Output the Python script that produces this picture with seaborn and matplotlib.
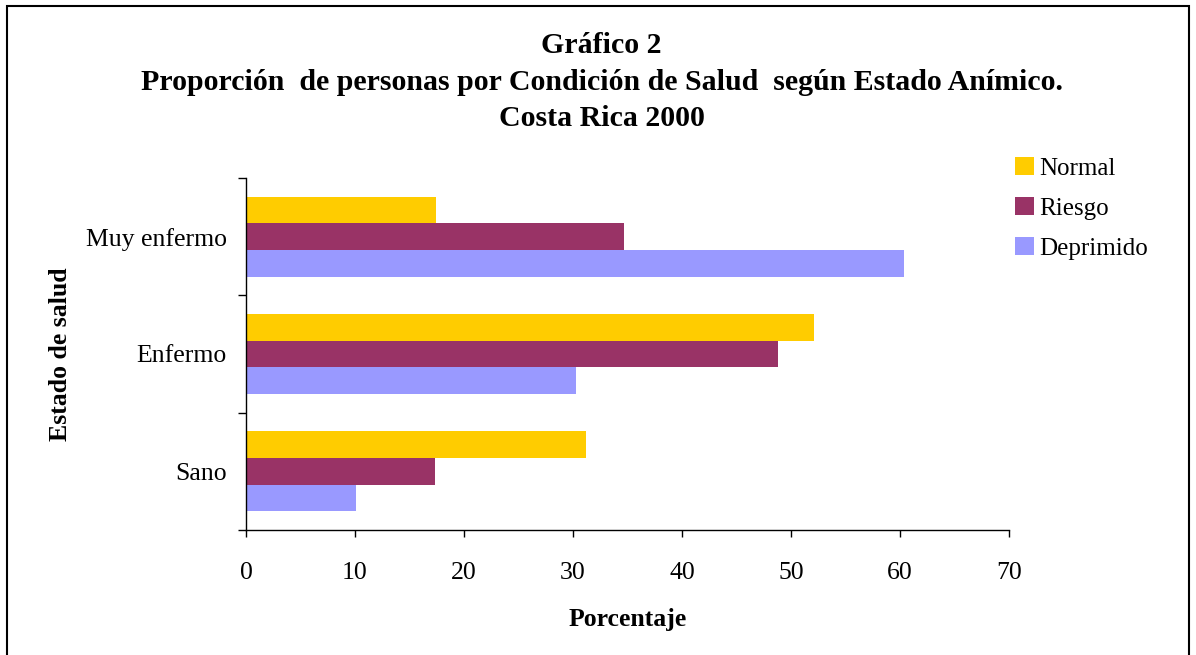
import numpy as np
import pandas as pd
import matplotlib
matplotlib.use("Agg")
import matplotlib.pyplot as plt
from matplotlib.patches import Rectangle
import seaborn as sns

estados = ["Muy enfermo", "Enfermo", "Sano"]
animo = ["Normal", "Riesgo", "Deprimido"]
normal = [17.4, 52.1, 31.2]
riesgo = [34.7, 48.8, 17.3]
deprimido = [60.4, 30.3, 10.1]
colores = ["#FFCC00", "#993366", "#9999FF"]

df = pd.DataFrame({
    "Estado": estados * 3,
    "Animo": np.repeat(animo, 3),
    "Porcentaje": normal + riesgo + deprimido,
})

sns.set_style("white")
plt.rcParams["font.family"] = ["Liberation Serif", "DejaVu Serif"]
plt.rcParams["text.color"] = "black"
plt.rcParams["axes.labelcolor"] = "black"
plt.rcParams["xtick.color"] = "black"
plt.rcParams["ytick.color"] = "black"

fig = plt.figure(figsize=(11.96, 6.55), dpi=100)
ax = fig.add_axes([246 / 1196, 1 - 530 / 655, (1009 - 246) / 1196, (530 - 178) / 655])

sns.barplot(data=df, y="Estado", x="Porcentaje", hue="Animo", order=estados,
            hue_order=animo, palette=colores, orient="h", width=0.68,
            saturation=1, errorbar=None, linewidth=0, ax=ax)

ax.set_xlim(0, 70)
ax.set_ylim(2.5, -0.5)
ax.set_xticks(range(0, 71, 10))
ax.set_yticks([-0.5, 0.5, 1.5, 2.5], minor=True)
ax.tick_params(axis="y", which="major", length=0, pad=14, labelsize=18.5)
ax.tick_params(axis="y", which="minor", left=True, length=6, width=1, color="black")
ax.tick_params(axis="x", which="major", bottom=True, length=5, width=1, color="black",
               pad=18, labelsize=18.5)
for s in ["top", "right"]:
    ax.spines[s].set_visible(False)
for s in ["left", "bottom"]:
    ax.spines[s].set_color("black")
    ax.spines[s].set_linewidth(1)

ax.set_xlabel("Porcentaje", fontsize=18.5, fontweight="bold", labelpad=17)
ax.set_ylabel("Estado de salud", fontsize=18.5, fontweight="bold", labelpad=10)

fig.text(0.503, 1 - 82 / 655,
         "Gráfico 2\nProporción  de personas por Condición de Salud  según Estado Anímico.\nCosta Rica 2000",
         ha="center", va="center", fontsize=21.5, fontweight="bold", linespacing=1.45)

ax.legend(loc="upper left", bbox_to_anchor=(1005 / 1196, 1 - 147 / 655),
          bbox_transform=fig.transFigure, frameon=False, fontsize=18,
          handlelength=0.75, handleheight=0.75, handletextpad=0.2, labelspacing=0.68,
          borderaxespad=0)

fig.patches.append(Rectangle((7 / 1196, -0.05), (1189 - 7) / 1196, 1.05 - 6 / 655,
                             transform=fig.transFigure, fill=False,
                             edgecolor="black", linewidth=1.5))

fig.savefig("out.png", dpi=100)
